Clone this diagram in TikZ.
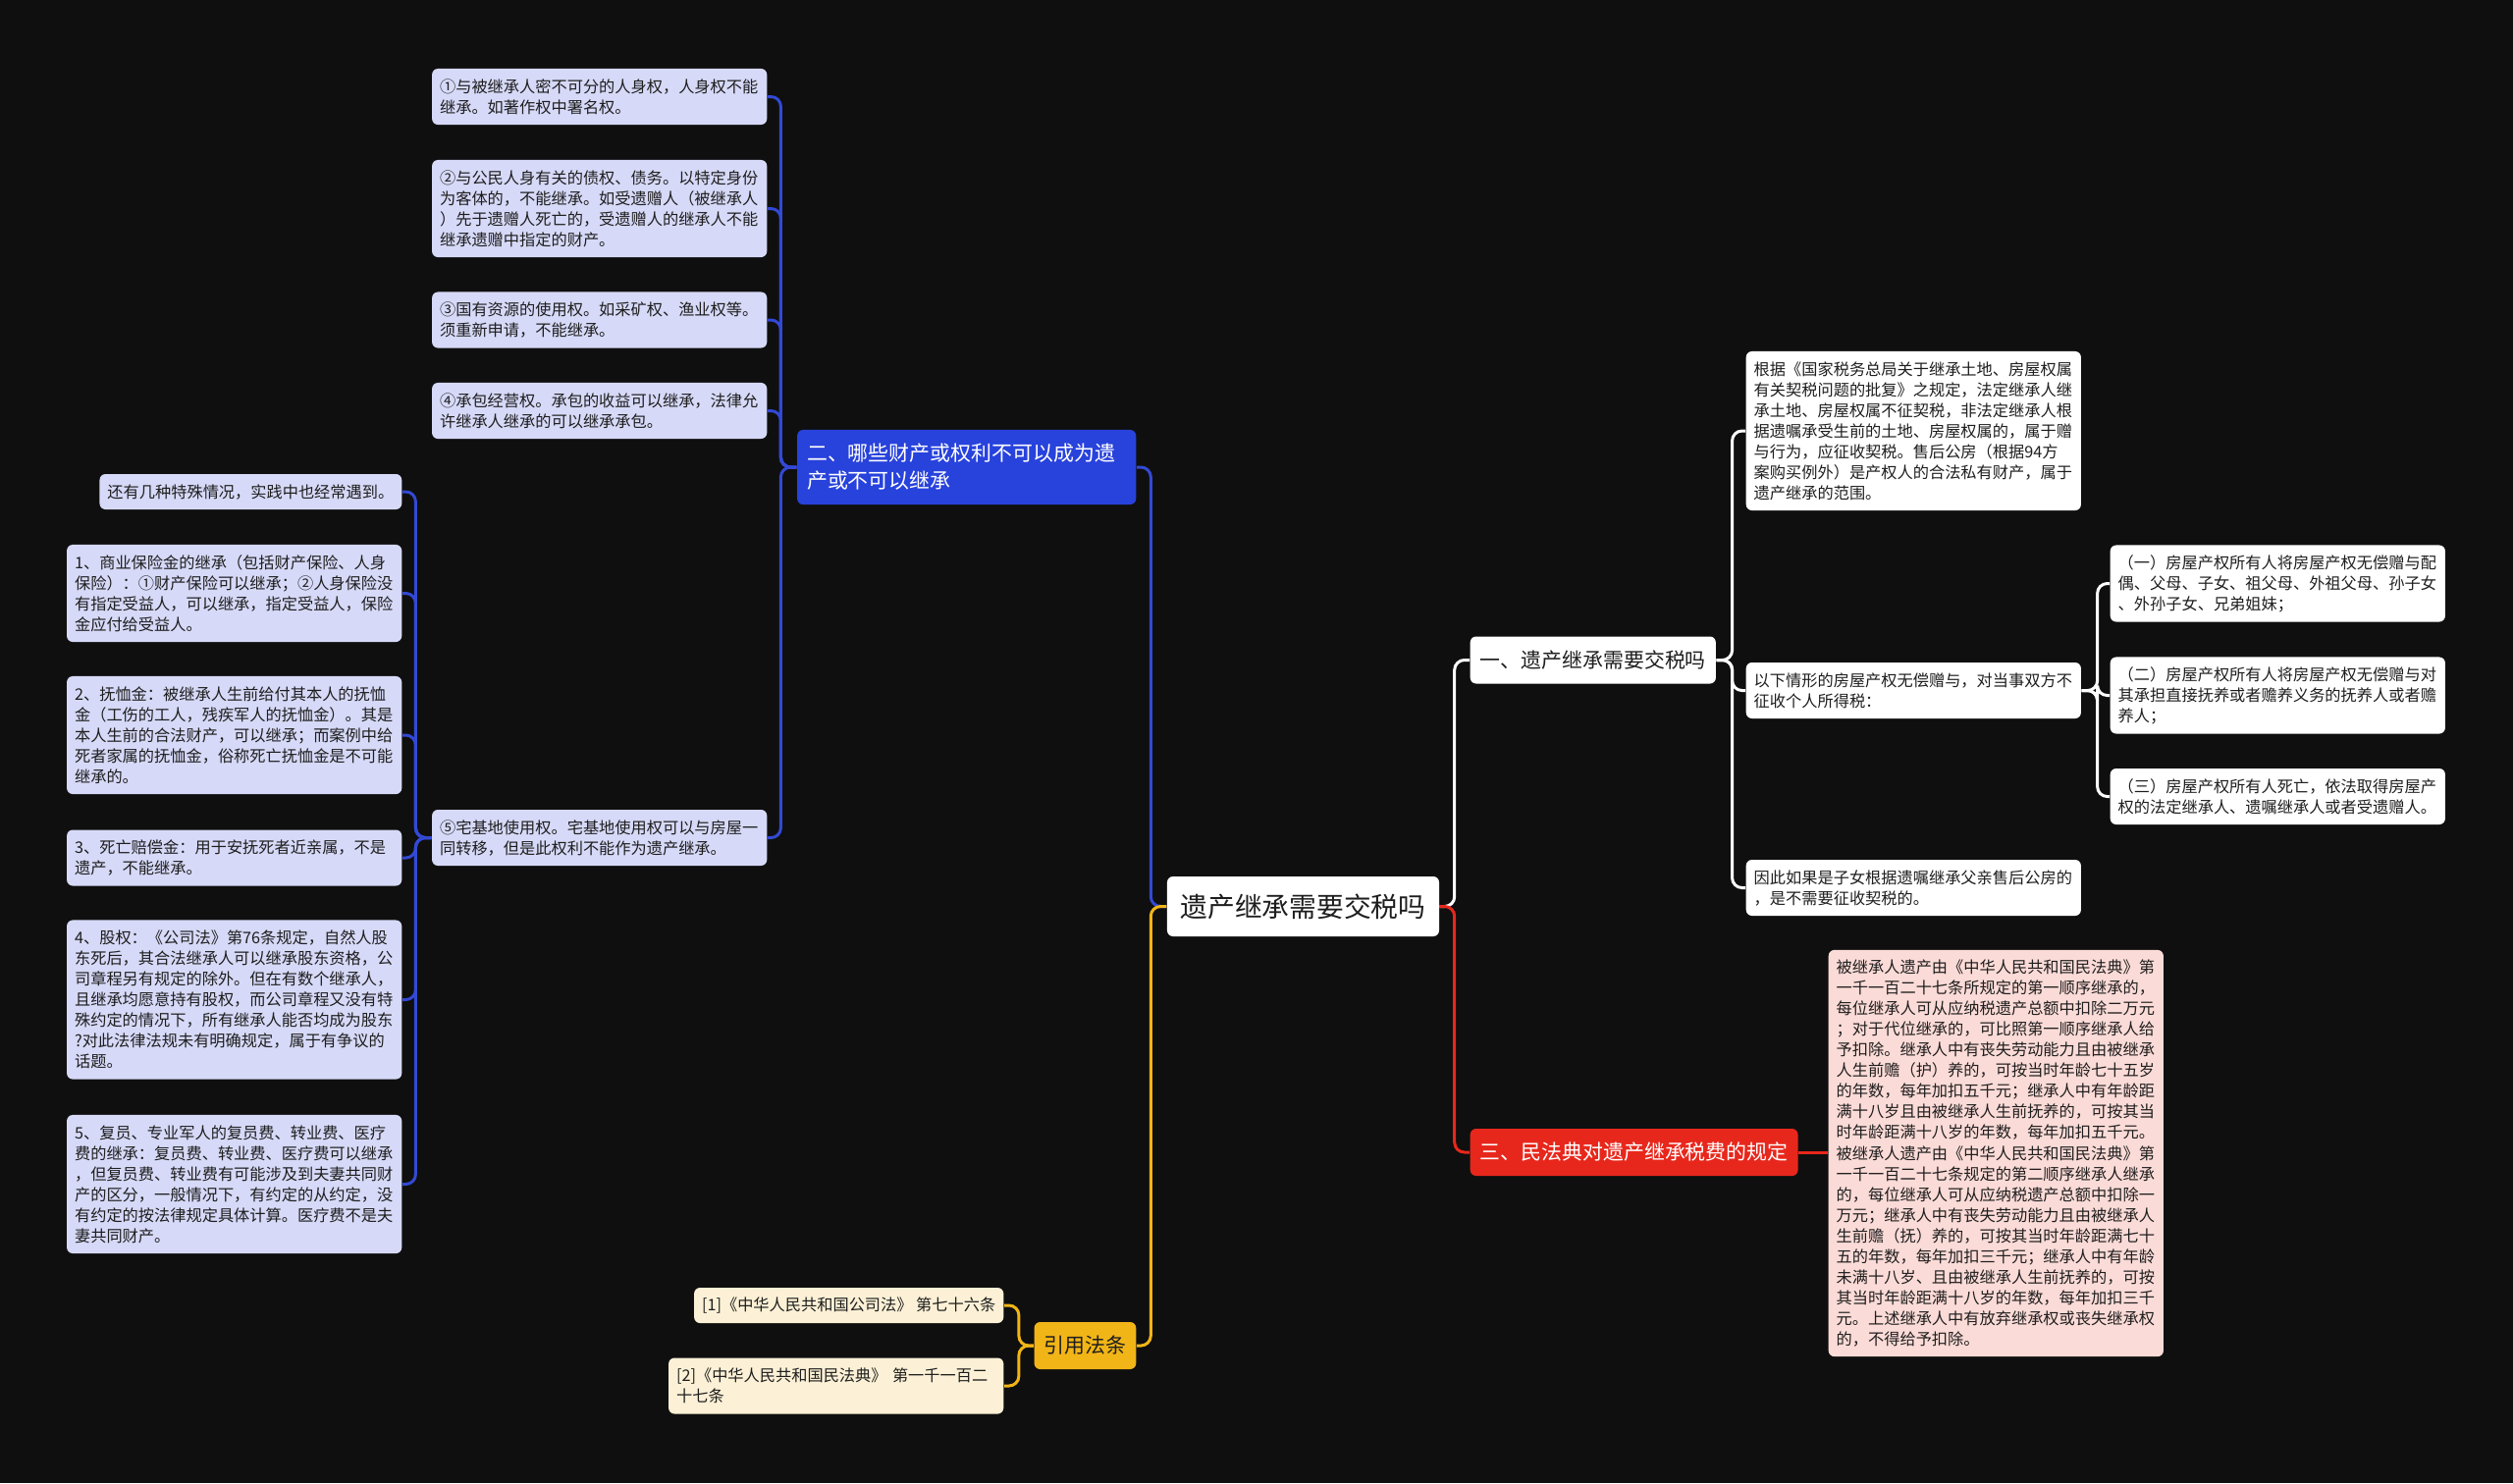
\documentclass[tikz,border=0pt]{standalone}
\usepackage{fontspec}
\setmainfont{Noto Sans CJK SC}
\definecolor{bg}{HTML}{0F0F0F}
\definecolor{ink}{HTML}{1E1E1E}
\definecolor{lav}{HTML}{D6D9F7}
\definecolor{azul}{HTML}{2842DC}
\definecolor{azulline}{HTML}{3349D4}
\definecolor{rojo}{HTML}{E8271C}
\definecolor{rosa}{HTML}{FBDBD7}
\definecolor{oro}{HTML}{F2B517}
\definecolor{crema}{HTML}{FCF1D6}
\newcommand{\leaffont}{\fontsize{4.61pt}{5.975pt}\selectfont}
\newcommand{\topicfont}{\fontsize{5.95pt}{7.97pt}\selectfont}
\newcommand{\rootfont}{\fontsize{7.9pt}{9pt}\selectfont}
\begin{document}
\begin{tikzpicture}[x=0.01cm, y=-0.01cm,
  every node/.style={align=left, rounded corners=0.06cm, inner ysep=0.03cm},
  leaf/.style={inner xsep=0.08cm, font=\leaffont, text=ink},
  wide/.style={text width=3.25cm},
  nl/.style={minimum height=#1*0.21cm+0.15cm},
  topic/.style={inner xsep=0.1cm, font=\topicfont, minimum height=0.48cm},
  link/.style={line width=0.85pt, rounded corners=0.1cm}]
  \fill[bg] (0,0) rectangle (2560,1511);
  \useasboundingbox (0,0) rectangle (2560,1511);
  % raiz
  \node[fill=white, font=\rootfont, text=ink, inner xsep=0.135cm, minimum height=0.61cm] (root) at (1327.5,923.5) {遗产继承需要交税吗};
  % rama 2 (azul)
  \node[topic, wide, fill=azul, text=white, minimum height=0.76cm, anchor=east] (b) at (1158,476) {二、哪些财产或权利不可以成为遗\\产或不可以继承};
  \node[leaf, wide, fill=lav, nl=2, anchor=east] (b1) at (782,98.5) {①与被继承人密不可分的人身权，人身权不能\\继承。如著作权中署名权。};
  \node[leaf, wide, fill=lav, nl=4, anchor=east] (b2) at (782,212.5) {②与公民人身有关的债权、债务。以特定身份\\为客体的，不能继承。如受遗赠人（被继承人\\）先于遗赠人死亡的，受遗赠人的继承人不能\\继承遗赠中指定的财产。};
  \node[leaf, wide, fill=lav, nl=2, anchor=east] (b3) at (782,326) {③国有资源的使用权。如采矿权、渔业权等。\\须重新申请，不能继承。};
  \node[leaf, wide, fill=lav, nl=2, anchor=east] (b4) at (782,418.5) {④承包经营权。承包的收益可以继承，法律允\\许继承人继承的可以继承承包。};
  \node[leaf, wide, fill=lav, nl=2, anchor=east] (b5) at (782,853.5) {⑤宅基地使用权。宅基地使用权可以与房屋一\\同转移，但是此权利不能作为遗产继承。};
  \node[leaf, fill=lav, nl=1, anchor=east] (c0) at (410,501) {还有几种特殊情况，实践中也经常遇到。};
  \node[leaf, wide, fill=lav, nl=4, anchor=east] (c1) at (410,604.5) {1、商业保险金的继承（包括财产保险、人身\\保险）：①财产保险可以继承；②人身保险没\\有指定受益人，可以继承，指定受益人，保险\\金应付给受益人。};
  \node[leaf, wide, fill=lav, nl=5, anchor=east] (c2) at (410,749) {2、抚恤金：被继承人生前给付其本人的抚恤\\金（工伤的工人，残疾军人的抚恤金）。其是\\本人生前的合法财产，可以继承；而案例中给\\死者家属的抚恤金，俗称死亡抚恤金是不可能\\继承的。};
  \node[leaf, wide, fill=lav, nl=2, anchor=east] (c3) at (410,874) {3、死亡赔偿金：用于安抚死者近亲属，不是\\遗产，不能继承。};
  \node[leaf, wide, fill=lav, nl=7, anchor=east] (c4) at (410,1018.5) {4、股权：《公司法》第76条规定，自然人股\\东死后，其合法继承人可以继承股东资格，公\\司章程另有规定的除外。但在有数个继承人，\\且继承均愿意持有股权，而公司章程又没有特\\殊约定的情况下，所有继承人能否均成为股东\\?对此法律法规未有明确规定，属于有争议的\\话题。};
  \node[leaf, wide, fill=lav, nl=6, anchor=east] (c5) at (410,1206.5) {5、复员、专业军人的复员费、转业费、医疗\\费的继承：复员费、转业费、医疗费可以继承\\，但复员费、转业费有可能涉及到夫妻共同财\\产的区分，一般情况下，有约定的从约定，没\\有约定的按法律规定具体计算。医疗费不是夫\\妻共同财产。};
  % rama 1 (blanca)
  \node[topic, fill=white, text=ink, anchor=west] (w) at (1497,672.5) {一、遗产继承需要交税吗};
  \node[leaf, wide, fill=white, nl=7, anchor=west] (w1) at (1778,439) {根据《国家税务总局关于继承土地、房屋权属\\有关契税问题的批复》之规定，法定继承人继\\承土地、房屋权属不征契税，非法定继承人根\\据遗嘱承受生前的土地、房屋权属的，属于赠\\与行为，应征收契税。售后公房（根据94方\\案购买例外）是产权人的合法私有财产，属于\\遗产继承的范围。};
  \node[leaf, wide, fill=white, nl=2, anchor=west] (w2) at (1778,703.5) {以下情形的房屋产权无偿赠与，对当事双方不\\征收个人所得税：};
  \node[leaf, wide, fill=white, nl=2, anchor=west] (w3) at (1778,904.5) {因此如果是子女根据遗嘱继承父亲售后公房的\\，是不需要征收契税的。};
  \node[leaf, wide, fill=white, nl=3, anchor=west] (w2a) at (2149,594.5) {（一）房屋产权所有人将房屋产权无偿赠与配\\偶、父母、子女、祖父母、外祖父母、孙子女\\、外孙子女、兄弟姐妹；};
  \node[leaf, wide, fill=white, nl=3, anchor=west] (w2b) at (2149,708.5) {（二）房屋产权所有人将房屋产权无偿赠与对\\其承担直接抚养或者赡养义务的抚养人或者赡\\养人；};
  \node[leaf, wide, fill=white, nl=2, anchor=west] (w2c) at (2149,811.5) {（三）房屋产权所有人死亡，依法取得房屋产\\权的法定继承人、遗嘱继承人或者受遗赠人。};
  % rama 3 (roja)
  \node[topic, fill=rojo, text=white, anchor=west] (r) at (1497,1174) {三、民法典对遗产继承税费的规定};
  \node[leaf, wide, fill=rosa, nl=19, anchor=west] (r1) at (1862,1175) {被继承人遗产由《中华人民共和国民法典》第\\一千一百二十七条所规定的第一顺序继承的，\\每位继承人可从应纳税遗产总额中扣除二万元\\；对于代位继承的，可比照第一顺序继承人给\\予扣除。继承人中有丧失劳动能力且由被继承\\人生前赡（护）养的，可按当时年龄七十五岁\\的年数，每年加扣五千元；继承人中有年龄距\\满十八岁且由被继承人生前抚养的，可按其当\\时年龄距满十八岁的年数，每年加扣五千元。\\被继承人遗产由《中华人民共和国民法典》第\\一千一百二十七条规定的第二顺序继承人继承\\的，每位继承人可从应纳税遗产总额中扣除一\\万元；继承人中有丧失劳动能力且由被继承人\\生前赡（抚）养的，可按其当时年龄距满七十\\五的年数，每年加扣三千元；继承人中有年龄\\未满十八岁、且由被继承人生前抚养的，可按\\其当时年龄距满十八岁的年数，每年加扣三千\\元。上述继承人中有放弃继承权或丧失继承权\\的，不得给予扣除。};
  % citas (amarilla)
  \node[topic, fill=oro, text=ink, anchor=east] (cite) at (1158,1371) {引用法条};
  \node[leaf, fill=crema, nl=1, anchor=east] (cite1) at (1023,1330) {[1]《中华人民共和国公司法》 第七十六条};
  \node[leaf, wide, fill=crema, nl=2, anchor=east] (cite2) at (1023,1412) {[2]《中华人民共和国民法典》 第一千一百二\\十七条};
  % conectores
  \draw[link, azulline] (root.west) -- ++(-16,0) |- (b.east);
  \draw[link, oro] (root.west) -- ++(-16,0) |- (cite.east);
  \draw[link, white] (root.east) -- ++(15,0) |- (w.west);
  \draw[link, rojo] (root.east) -- ++(15,0) |- (r.west);
  \foreach \c in {b1,b2,b3,b4,b5} \draw[link, azulline] (b.west) -- ++(-16,0) |- (\c.east);
  \foreach \c in {c0,c1,c2,c3,c4,c5} \draw[link, azulline] (b5.west) -- ++(-16,0) |- (\c.east);
  \foreach \c in {w1,w2,w3} \draw[link, white] (w.east) -- ++(16,0) |- (\c.west);
  \foreach \c in {w2a,w2b,w2c} \draw[link, white] (w2.east) -- ++(16,0) |- (\c.west);
  \draw[link, rojo] (r.east) -- (r1.west |- r.east);
  \foreach \c in {cite1,cite2} \draw[link, oro] (cite.west) -- ++(-15,0) |- (\c.east);
\end{tikzpicture}
\end{document}
